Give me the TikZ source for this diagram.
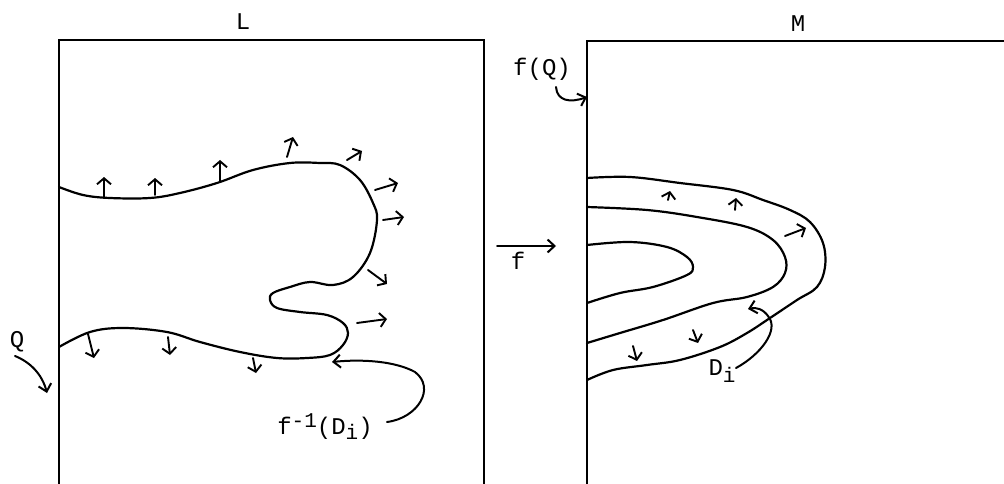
\documentclass[tikz,border=0pt]{standalone}
\usepackage{fontspec}
\setmonofont{Liberation Mono}
\usetikzlibrary{arrows.meta}
\begin{document}
\begin{tikzpicture}[x=1pt,y=-1pt,
  ink/.style={line width=2.2pt,line join=round,line cap=round},
  frame/.style={line width=2pt},
  normal/.style={line width=1.9pt,line cap=round,-{Straight Barb[length=6pt,width=14pt,line width=1.9pt]}},
  pointer/.style={line width=2pt,line cap=round,-{Straight Barb[length=7pt,width=13pt,line width=2pt]}},
  lab/.style={font=\ttfamily\fontsize{24}{26}\selectfont,inner sep=1pt}]
\useasboundingbox (0,0) rectangle (1004,484);
% frames
\draw[frame] (59,484) -- (59,40) -- (484,40) -- (484,484);
\draw[frame] (587,484) -- (587,41) -- (1004,41);
\node[lab] (L) at (243,22) {L};
\node[lab] (M) at (798,24) {M};
% left curve
\draw[ink] plot[smooth,tension=0.6] coordinates {(59,187) (83,195) (110,198) (150,198) (180,193) (217,183) (253,170) (290,163) (320,163) (340,165) (360,180) (373,203) (377,220) (370,253) (353,277) (333,285) (310,282) (290,287) (273,293) (270,300) (277,308) (300,312) (327,315) (343,323) (348,333) (343,345) (330,355) (307,358) (277,358) (240,352) (200,342) (167,332) (123,328) (90,332) (59,347)};
% left normals
\foreach \a/\b/\c/\d in {104/198/104/177, 155/195/155/178, 220/182/220/160, 287/157/293/137, 347/160/362/151, 375/190/398/183, 383/220/404/217, 368/270/387/284, 357/323/387/319, 88/334/94/358, 168/337/170/355, 253/358/256/373}
  \draw[normal] (\a,\b) -- (\c,\d);
% right curves
\draw[ink] plot[smooth,tension=0.6] coordinates {(587,178) (630,177) (680,183) (733,190) (763,200) (790,210) (810,222) (823,243) (825,267) (817,287) (797,300) (770,318) (747,333) (720,347) (680,360) (647,365) (613,370) (587,380)};
\draw[ink] plot[smooth,tension=0.6] coordinates {(587,207) (647,210) (697,217) (747,227) (773,240) (785,257) (785,273) (773,287) (747,297) (713,303) (663,320) (620,333) (587,343)};
\draw[ink] plot[smooth,tension=0.6] coordinates {(587,245) (630,242) (667,247) (687,257) (693,267) (687,275) (653,287) (620,293) (587,303)};
% right normals
\foreach \a/\b/\c/\d in {668/200/670/191, 735/210/736/198, 785/236/806/228, 633/346/637/361, 693/330/698/343}
  \draw[normal] (\a,\b) -- (\c,\d);
% f arrow
\coordinate (fs) at (497,246);
\coordinate (fe) at (556,246);
\draw[pointer] (fs) -- (fe);
\node[lab] (f) at (518,261) {f};
% Q
\node[lab] (Q) at (17,342) {Q};
\coordinate (qs) at (15,356);
\coordinate (qe) at (47,393);
\draw[pointer] (qs) .. controls (30,362) and (42,374) .. (qe);
% f(Q)
\node[lab] (fQ) at (542,69) {f(Q)};
\coordinate (fqs) at (556,87);
\coordinate (fqe) at (587,97);
\draw[pointer] (fqs) .. controls (557,101) and (570,103) .. (fqe);
% f^{-1}(D_i)
\node[lab,anchor=base] (fin) at (325,434) {f\raisebox{0.55ex}{\fontsize{21}{22}\selectfont-1}(D\raisebox{-0.45ex}{\fontsize{21}{22}\selectfont i})};
\coordinate (fis) at (387,422);
\coordinate (fie) at (332,362);
\draw[pointer] (fis) .. controls (418,418) and (436,388) .. (415,372) .. controls (395,361) and (362,359) .. (fie);
% D_i
\node[lab,anchor=base] (Di) at (722,375) {D\raisebox{-0.6ex}{\fontsize{21}{22}\selectfont i}};
\coordinate (dis) at (736,368);
\coordinate (die) at (748,309);
\draw[pointer] (dis) .. controls (760,355) and (780,330) .. (768,316) .. controls (763,309) and (756,307) .. (die);
\end{tikzpicture}
\end{document}
